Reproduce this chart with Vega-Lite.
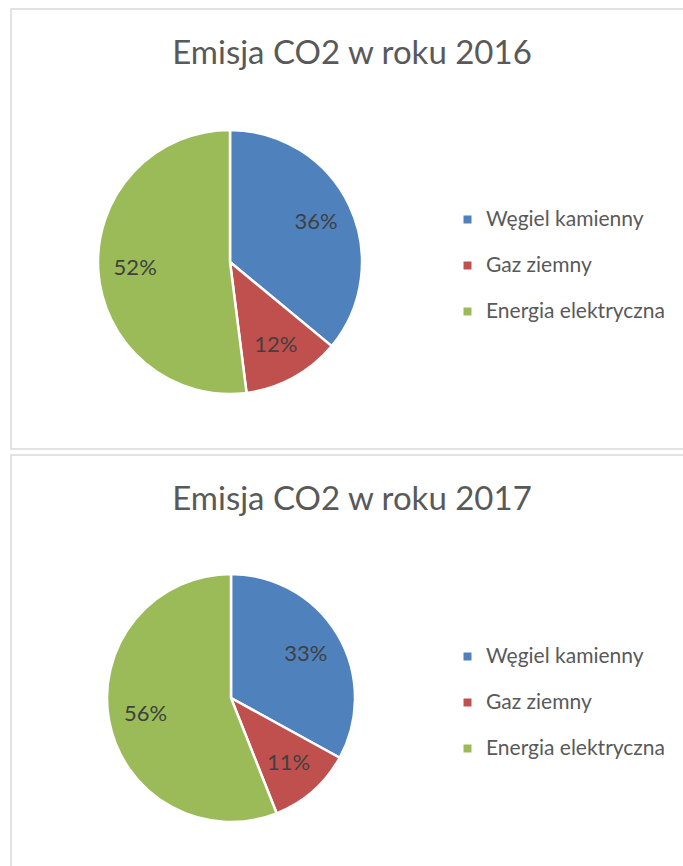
{
  "$schema": "https://vega.github.io/schema/vega-lite/v6.json",
  "padding": {"left": 10, "top": 8, "right": 0, "bottom": 0},
  "background": "white",
  "spacing": 4,
  "config": {
    "view": {"stroke": null},
    "font": "Lato",
    "title": {"font": "Lato", "fontSize": 33, "fontWeight": "normal", "color": "#595959", "anchor": "middle"},
    "legend": {"labelFont": "Lato", "labelFontSize": 21, "labelColor": "#595959", "symbolType": "square", "symbolSize": 64, "symbolStrokeWidth": 0, "rowPadding": 24, "labelOffset": 8, "labelLimit": 400}
  },
  "resolve": {"scale": {"color": "independent"}, "legend": {"color": "independent"}},
  "vconcat": [
    {
      "width": 675,
      "height": 440,
      "title": {"text": "Emisja CO2 w roku 2016", "offset": -89, "baseline": "alphabetic", "anchor": "start", "dx": 162},
      "layer": [
        {"data": {"values": [{}]}, "mark": {"type": "rect", "fill": null, "stroke": "#d9d9d9", "strokeWidth": 1.5}, "encoding": {}},
        {
          "data": {"values": [
            {"kategoria": "Węgiel kamienny", "udzial": 36, "kolejnosc": 1, "etykieta": "36%"},
            {"kategoria": "Gaz ziemny", "udzial": 12, "kolejnosc": 2, "etykieta": "12%"},
            {"kategoria": "Energia elektryczna", "udzial": 52, "kolejnosc": 3, "etykieta": "52%"}
          ]},
          "encoding": {
            "theta": {"field": "udzial", "type": "quantitative", "stack": true},
            "order": {"field": "kolejnosc", "type": "quantitative"},
            "color": {
              "field": "kategoria", "type": "nominal",
              "scale": {"domain": ["Węgiel kamienny", "Gaz ziemny", "Energia elektryczna"], "range": ["#4F81BD", "#C0504D", "#9BBB59"]},
              "legend": {"title": null, "orient": "none", "legendX": 446, "legendY": 200}
            }
          },
          "layer": [
            {"mark": {"type": "arc", "outerRadius": 132, "x": 219, "y": 253, "stroke": "white", "strokeWidth": 2.5}},
            {"mark": {"type": "text", "radius": 95, "x": 219, "y": 253, "fontSize": 22, "font": "Lato", "fill": "#404040"},
             "encoding": {"text": {"field": "etykieta"}, "color": {"value": "#404040"}}}
          ]
        }
      ]
    },
    {
      "width": 675,
      "height": 416,
      "title": {"text": "Emisja CO2 w roku 2017", "offset": -89, "baseline": "alphabetic", "anchor": "start", "dx": 162},
      "layer": [
        {"data": {"values": [{}]}, "mark": {"type": "rect", "fill": null, "stroke": "#d9d9d9", "strokeWidth": 1.5}, "encoding": {}},
        {
          "data": {"values": [
            {"kategoria": "Węgiel kamienny", "udzial": 33, "kolejnosc": 1, "etykieta": "33%"},
            {"kategoria": "Gaz ziemny", "udzial": 11, "kolejnosc": 2, "etykieta": "11%"},
            {"kategoria": "Energia elektryczna", "udzial": 56, "kolejnosc": 3, "etykieta": "56%"}
          ]},
          "encoding": {
            "theta": {"field": "udzial", "type": "quantitative", "stack": true},
            "order": {"field": "kolejnosc", "type": "quantitative"},
            "color": {
              "field": "kategoria", "type": "nominal",
              "scale": {"domain": ["Węgiel kamienny", "Gaz ziemny", "Energia elektryczna"], "range": ["#4F81BD", "#C0504D", "#9BBB59"]},
              "legend": {"title": null, "orient": "none", "legendX": 446, "legendY": 191}
            }
          },
          "layer": [
            {"mark": {"type": "arc", "outerRadius": 124, "x": 220, "y": 243, "stroke": "white", "strokeWidth": 2.5}},
            {"mark": {"type": "text", "radius": 87, "x": 220, "y": 243, "fontSize": 22, "font": "Lato", "fill": "#404040"},
             "encoding": {"text": {"field": "etykieta"}, "color": {"value": "#404040"}}}
          ]
        }
      ]
    }
  ]
}
